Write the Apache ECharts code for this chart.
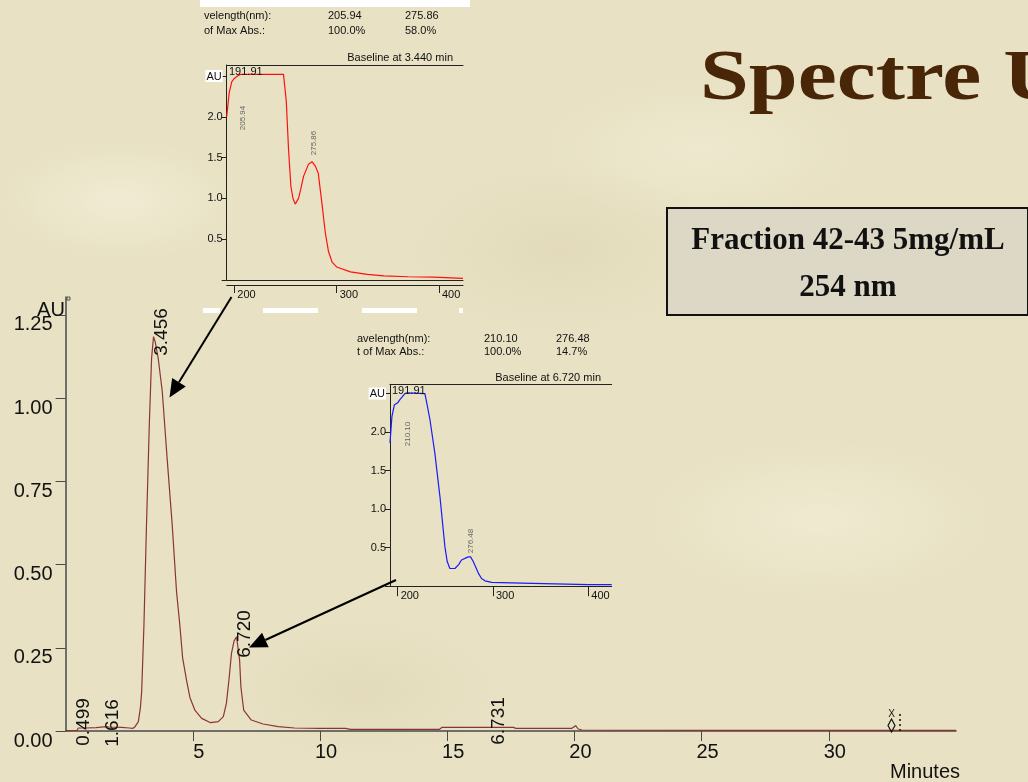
<!DOCTYPE html>
<html><head><meta charset="utf-8">
<script src="https://cdn.jsdelivr.net/npm/echarts@6/dist/echarts.min.js"></script>
<style>
html,body{margin:0;padding:0;width:1028px;height:782px;overflow:hidden;}
body{background-color:#e8e1c3;
background-image:
 radial-gradient(ellipse 180px 90px at 120px 200px, rgba(255,255,240,0.35), rgba(255,255,240,0) 70%),
 radial-gradient(ellipse 220px 120px at 560px 250px, rgba(200,190,150,0.18), rgba(200,190,150,0) 70%),
 radial-gradient(ellipse 260px 120px at 820px 520px, rgba(255,255,240,0.3), rgba(255,255,240,0) 70%),
 radial-gradient(ellipse 200px 100px at 360px 690px, rgba(200,190,150,0.18), rgba(200,190,150,0) 70%),
 radial-gradient(ellipse 240px 110px at 700px 150px, rgba(255,255,240,0.25), rgba(255,255,240,0) 70%);}
#c{width:1028px;height:782px;}
</style></head><body><div id="c"></div>
<script>
// ---- Chromatogram (254 nm) ----
const chromTime = [0,0.45,0.5,0.8,1.2,1.6,1.7,2.2,2.5,2.65,2.73,2.86,2.94,2.99,3.08,3.18,3.29,3.38,3.456,3.52,3.64,3.80,3.99,4.19,4.36,4.50,4.60,4.76,4.89,5.08,5.35,5.7,6.0,6.2,6.32,6.42,6.52,6.62,6.72,6.78,6.84,6.89,7.0,7.3,7.76,8.36,9.0,10.0,11.0,11.2,14.7,14.8,17.6,17.7,19.9,20.05,20.15,20.3,25,30,35];
const chromAU = [0.001,0.002,0.009,0.009,0.01,0.013,0.012,0.011,0.009,0.008,0.013,0.028,0.07,0.118,0.32,0.62,0.92,1.12,1.185,1.17,1.12,1.02,0.82,0.62,0.42,0.31,0.22,0.15,0.10,0.063,0.038,0.025,0.028,0.043,0.083,0.153,0.233,0.27,0.283,0.28,0.213,0.133,0.063,0.033,0.021,0.013,0.009,0.008,0.008,0.005,0.005,0.011,0.011,0.008,0.008,0.016,0.006,0.003,0.002,0.002,0.002];
const peakLabels = ['0.499','1.616','3.456','6.720','6.731'];

// ---- UV spectrum at 3.440 min ----
const spec1Nm = [192.5,195,197.5,200,203,205.94,248,250.7,253,255.3,257.3,259.5,262.7,265,267.6,272.5,275.86,279,282,285,289,292,295.5,300,313.5,330,346,370,395,423.5];
const spec1AU = [2.0,2.3,2.43,2.47,2.5,2.52,2.52,2.2,1.59,1.14,1.0,0.93,1.0,1.12,1.27,1.42,1.45,1.40,1.31,1.0,0.57,0.35,0.22,0.16,0.10,0.07,0.05,0.04,0.035,0.02];
const spec1Max = ['205.94','275.86'];
const spec1Pct = ['100.0%','58.0%'];

// ---- UV spectrum at 6.720 min ----
const spec2Nm = [192,194,196.5,200,202.4,207.6,210.1,228.6,231,233.9,239,244.4,249.6,252,254.8,260.1,264,267,274,276.48,279.3,284.6,288,291.6,298.6,330,365,400,424.5];
const spec2AU = [1.86,2.2,2.35,2.38,2.42,2.5,2.51,2.5,2.35,2.16,1.73,1.16,0.51,0.32,0.23,0.23,0.28,0.34,0.38,0.38,0.32,0.17,0.1,0.07,0.05,0.04,0.03,0.02,0.02];
const spec2Max = ['210.10','276.48'];
const spec2Pct = ['100.0%','14.7%'];

const zip = (a,b)=>a.map((v,i)=>[v,b[i]]);
const SANS = '"Liberation Sans", Arial, sans-serif';
const SERIF = '"Liberation Serif", "Times New Roman", serif';

function arrow(x1,y1,x2,y2){
  const dx=x2-x1, dy=y2-y1, L=Math.hypot(dx,dy), ux=dx/L, uy=dy/L, hl=18, hw=8;
  const bx=x2-ux*hl, by=y2-uy*hl;
  return [
    {type:'line', z:50, shape:{x1:x1,y1:y1,x2:bx,y2:by}, style:{stroke:'#000',lineWidth:2}},
    {type:'polygon', z:50, shape:{points:[[x2,y2],[bx-uy*hw,by+ux*hw],[bx+uy*hw,by-ux*hw]]}, style:{fill:'#000'}}
  ];
}
function txt(x,y,s,o){
  o=o||{};
  return {type:'text', z:40, x:x, y:y, rotation:o.rot||0, scaleX:o.sx||1,
    style:{text:s, fill:o.color||'#111', font:(o.weight||'normal')+' '+(o.size||11)+'px '+(o.family||SANS),
      align:o.align||'left', verticalAlign:o.va||'middle'}};
}

const chart = echarts.init(document.getElementById('c'), null, {renderer:'canvas'});

const insetYAxis = (grid,max)=>({
  gridIndex:grid, type:'value', min:0, max:max, interval:0.5,
  axisLine:{show:true, onZero:false, lineStyle:{color:'#222',width:1}},
  axisTick:{show:true, length:5, lineStyle:{color:'#222'}},
  splitLine:{show:false},
  axisLabel:{showMaxLabel:false, margin:4, fontSize:11, fontFamily:SANS, color:'#111',
    formatter:v=> v===0 ? '' : (Math.abs(v-2.5)<1e-9 ? '{au|AU}' : v.toFixed(1)),
    rich:{au:{backgroundColor:'#ffffff', fontSize:11, fontFamily:SANS, color:'#111', padding:[1,1,0,1]}}}
});
const insetXAxis = (grid,min,max,off,tick)=>({
  gridIndex:grid, type:'value', position:'bottom', min:min, max:max, splitNumber:2, minInterval:100, maxInterval:100,
  offset:off,
  axisLine:{show:true, onZero:false, lineStyle:{color:'#222',width:1}},
  axisTick:{show:true, length:tick, lineStyle:{color:'#222'}},
  splitLine:{show:false},
  axisLabel:{showMinLabel:false, showMaxLabel:false, align:'left', padding:[0,0,0,3], margin:4, fontSize:11, fontFamily:SANS, color:'#111'}
});
const lineOnly = (grid,pos,min,max)=>({
  gridIndex:grid, type:'value', position:pos, min:min, max:max,
  axisLine:{show:true, onZero:false, lineStyle:{color:'#222',width:1}},
  axisTick:{show:false}, axisLabel:{show:false}, splitLine:{show:false}
});

const graphics = [
  // white strips from the original slide
  {type:'rect', z:30, shape:{x:200,y:0,width:270,height:7}, style:{fill:'#ffffff'}},
  {type:'rect', z:30, shape:{x:203,y:308,width:17,height:5}, style:{fill:'#ffffff'}},
  {type:'rect', z:30, shape:{x:263,y:308,width:55,height:5}, style:{fill:'#ffffff'}},
  {type:'rect', z:30, shape:{x:362,y:308,width:55,height:5}, style:{fill:'#ffffff'}},
  {type:'rect', z:30, shape:{x:459,y:308,width:4,height:5}, style:{fill:'#ffffff'}},
  // inset 1 header
  txt(204,16,'velength(nm):'), txt(328,16,spec1Max[0]), txt(405,16,spec1Max[1]),
  txt(204,31,'of Max Abs.:'), txt(328,31,spec1Pct[0]), txt(405,31,spec1Pct[1]),
  txt(453,58,'Baseline at 3.440 min',{align:'right'}),
  txt(229,72,'191.91'),
  txt(243,118,spec1Max[0],{rot:Math.PI/2,align:'center',size:8,color:'#666'}),
  txt(314,143,spec1Max[1],{rot:Math.PI/2,align:'center',size:8,color:'#666'}),
  // inset 2 header
  txt(357,339,'avelength(nm):'), txt(484,339,spec2Max[0]), txt(556,339,spec2Max[1]),
  txt(357,352,'t of Max Abs.:'), txt(484,352,spec2Pct[0]), txt(556,352,spec2Pct[1]),
  txt(601,378,'Baseline at 6.720 min',{align:'right'}),
  txt(392,391,'191.91'),
  txt(408,434,spec2Max[0],{rot:Math.PI/2,align:'center',size:8,color:'#666'}),
  txt(471,541,spec2Max[1],{rot:Math.PI/2,align:'center',size:8,color:'#666'}),
  // main chart peak labels
  txt(84,722,peakLabels[0],{rot:Math.PI/2,align:'center',size:19}),
  txt(113,723,peakLabels[1],{rot:Math.PI/2,align:'center',size:19}),
  txt(162,332,peakLabels[2],{rot:Math.PI/2,align:'center',size:19}),
  txt(245,634,peakLabels[3],{rot:Math.PI/2,align:'center',size:19}),
  txt(499,721,peakLabels[4],{rot:Math.PI/2,align:'center',size:19}),
  txt(51,310,'AU',{align:'center',size:20}),
  txt(925,772,'Minutes',{align:'center',size:20}),
  {type:'rect', z:40, shape:{x:67,y:297,width:3,height:3}, style:{fill:'none',stroke:'#333',lineWidth:0.8}},
  // event marker
  txt(891.5,714,'X',{align:'center',size:10,color:'#111'}),
  {type:'polygon', z:40, shape:{points:[[891.5,719],[895,725.5],[891.5,732],[888,725.5]]}, style:{fill:'none',stroke:'#111',lineWidth:1.2}},
  {type:'line', z:40, shape:{x1:900,y1:714,x2:900,y2:734}, style:{stroke:'#111',lineWidth:1.5,lineDash:[2,3]}},
  // title and box
  txt(700,80,'Spectre UV',{size:72,weight:'bold',family:SERIF,color:'#4a2608',sx:1.22}),
  {type:'rect', z:35, shape:{x:667,y:208,width:361,height:107}, style:{fill:'#ddd7c5',stroke:'#111',lineWidth:2}},
  txt(848,241,'Fraction 42-43 5mg/mL',{align:'center',size:31,weight:'bold',family:SERIF}),
  txt(848,288,'254 nm',{align:'center',size:31,weight:'bold',family:SERIF}),
].concat(arrow(231.5,297,169.5,397.5)).concat(arrow(396,580,249,647.5));

const option = {
  animation:false,
  backgroundColor:'transparent',
  grid:[
    {left:65.6, top:297, width:890.4, height:434},
    {left:226.7, top:65, width:236.3, height:215},
    {left:390, top:384.3, width:221.7, height:201.9}
  ],
  xAxis:[
    {gridIndex:0, type:'value', min:0, max:35, interval:5,
     axisLine:{show:true,onZero:false,lineStyle:{color:'#4a4a4a',width:1.5}},
     axisTick:{show:true,length:10,lineStyle:{color:'#4a4a4a',width:1}},
     splitLine:{show:false},
     axisLabel:{showMinLabel:false,showMaxLabel:false,margin:11,padding:[0,0,0,12],fontSize:20,fontFamily:SANS,color:'#111'}},
    insetXAxis(1,192.5,423.5,5,8),
    lineOnly(1,'bottom',192.5,423.5),
    lineOnly(1,'top',192.5,423.5),
    insetXAxis(2,192,424.5,0,10),
    lineOnly(2,'top',192,424.5)
  ],
  yAxis:[
    {gridIndex:0, type:'value', min:0, max:1.304, interval:0.25,
     axisLine:{show:true,onZero:false,lineStyle:{color:'#4a4a4a',width:1.5}},
     axisTick:{show:true,length:10,lineStyle:{color:'#4a4a4a',width:1}},
     splitLine:{show:false},
     axisLabel:{showMaxLabel:false,margin:13,verticalAlign:'top',lineHeight:20,fontSize:20,fontFamily:SANS,color:'#111',
       formatter:v=>v.toFixed(2)}},
    insetYAxis(1,2.635),
    insetYAxis(2,2.62)
  ],
  series:[
    {type:'line', xAxisIndex:0, yAxisIndex:0, data:zip(chromTime,chromAU), showSymbol:false, z:5,
     lineStyle:{color:'#8a3535',width:1.2}},
    {type:'line', xAxisIndex:1, yAxisIndex:1, data:zip(spec1Nm,spec1AU), showSymbol:false, z:5,
     lineStyle:{color:'#ff1010',width:1.2}},
    {type:'line', xAxisIndex:4, yAxisIndex:2, data:zip(spec2Nm,spec2AU), showSymbol:false, z:5,
     lineStyle:{color:'#1a1aff',width:1.2}}
  ],
  graphic:graphics
};
chart.setOption(option);
</script></body></html>
